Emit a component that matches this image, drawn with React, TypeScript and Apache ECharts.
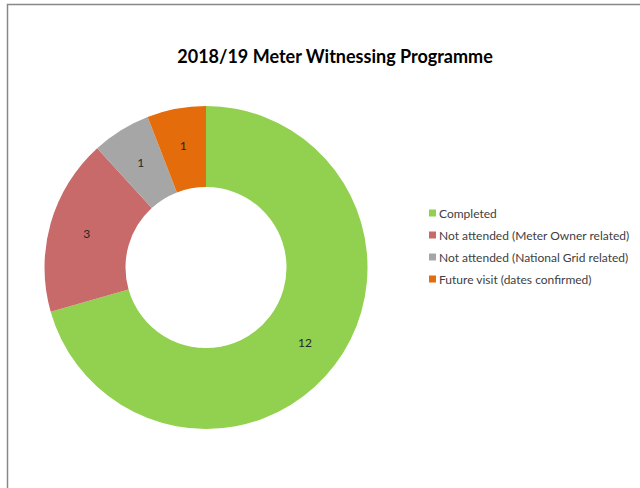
import React, { useEffect, useRef } from "react";
import * as echarts from "echarts";

const categories = [
  "Completed",
  "Not attended (Meter Owner related)",
  "Not attended (National Grid related)",
  "Future visit (dates confirmed)",
];
const values = [12, 3, 1, 1];
const colors = ["#92D050", "#C96A6A", "#A6A6A6", "#E46C0A"];
const titleText = "2018/19 Meter Witnessing Programme";

export default function App() {
  const ref = useRef<HTMLDivElement>(null);
  useEffect(() => {
    if (!ref.current) return;
    const chart = echarts.init(ref.current, undefined, { renderer: "svg" });
    chart.setOption({
      animation: false,
      backgroundColor: "#ffffff",
      title: {
        text: titleText,
        left: 330,
        textAlign: "center",
        top: 42,
        textStyle: {
          fontFamily: "Lato",
          fontWeight: "bold",
          fontSize: 18,
          color: "#000000",
        },
      },
      graphic: [
        {
          type: "rect",
          shape: { x: 7.5, y: 4.5, width: 800, height: 700 },
          style: { fill: "none", stroke: "#888888", lineWidth: 1.5 },
          silent: true,
        },
      ],
      legend: {
        orient: "vertical",
        left: 424,
        top: 202,
        icon: "rect",
        itemWidth: 7,
        itemHeight: 7,
        itemGap: 10,
        data: categories,
        textStyle: {
          fontFamily: "Lato",
          fontSize: 12,
          color: "#404040",
          padding: [0, 0, 0, -2],
        },
      },
      series: [
        {
          type: "pie",
          center: [206, 267.5],
          radius: [80.5, 161.5],
          startAngle: 90,
          clockwise: true,
          avoidLabelOverlap: false,
          label: {
            show: true,
            position: "inside",
            formatter: "{c}",
            fontFamily: "Lato",
            fontSize: 12,
            color: "#262626",
          },
          labelLine: { show: false },
          itemStyle: { borderWidth: 0 },
          emphasis: { disabled: true },
          data: categories.map((name, i) => ({
            name,
            value: values[i],
            itemStyle: { color: colors[i] },
          })),
        },
      ],
    });
    return () => chart.dispose();
  }, []);
  return (
    <div
      ref={ref}
      style={{ position: "fixed", left: 0, top: 0, width: 640, height: 488 }}
    />
  );
}
